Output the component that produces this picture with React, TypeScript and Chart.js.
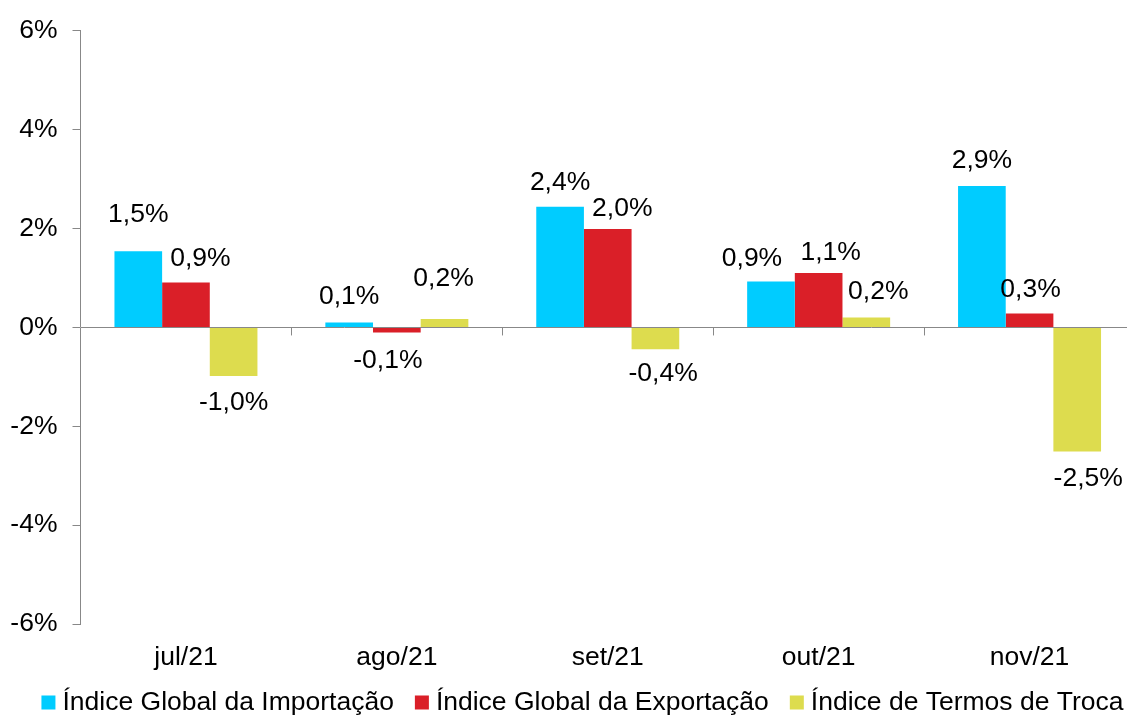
import React, { useEffect, useRef } from 'react';
import { Chart, registerables } from 'chart.js';

Chart.register(...registerables);

// ---- data ----
const categories = ['jul/21', 'ago/21', 'set/21', 'out/21', 'nov/21'];
const seriesNames = [
  'Índice Global da Importação',
  'Índice Global da Exportação',
  'Índice de Termos de Troca',
];
const importIndex = [1.54, 0.1, 2.44, 0.93, 2.86];
const exportIndex = [0.91, -0.1, 1.99, 1.1, 0.28];
const termsOfTrade = [-0.98, 0.17, -0.44, 0.2, -2.51];
const yTickValues = [-6, -4, -2, 0, 2, 4, 6];

// ---- style ----
const colors = ['#00CCFF', '#DA1F28', '#DDDC4E'];
const AXIS_GRAY = '#888888';
const FONT_FAMILY = '"Liberation Sans", Arial, Helvetica, sans-serif';
const FONT_SIZE = 26.5;
const W = 1135;
const H = 715;

// label nudges relative to the bar end (dx horizontal, dy vertical), per series
const labelNudges = [
  [{ dx: 0, dy: -37 }, { dx: 0, dy: -26 }, { dx: 0, dy: -24 }, { dx: -19, dy: -23 }, { dx: 0, dy: -25 }],
  [{ dx: 14.5, dy: -24 }, { dx: -9, dy: 28 }, { dx: 14.5, dy: -20 }, { dx: 12, dy: -20 }, { dx: 1, dy: -24 }],
  [{ dx: 0, dy: 27 }, { dx: -1, dy: -40 }, { dx: 7.7, dy: 24 }, { dx: 12, dy: -26 }, { dx: 11, dy: 27 }],
];

const fmt = (v: number) => v.toFixed(1).replace('.', ',') + '%';

const dataLabelPlugin = {
  id: 'dataLabels',
  afterDatasetsDraw(chart: any) {
    const ctx = chart.ctx;
    ctx.save();
    ctx.font = `${FONT_SIZE}px ${FONT_FAMILY}`;
    ctx.fillStyle = '#000';
    ctx.textAlign = 'center';
    ctx.textBaseline = 'middle';
    chart.data.datasets.forEach((ds: any, i: number) => {
      const meta = chart.getDatasetMeta(i);
      meta.data.forEach((bar: any, j: number) => {
        const v = ds.data[j] as number;
        const n = labelNudges[i][j];
        ctx.fillText(fmt(v), bar.x + n.dx, bar.y + n.dy);
      });
    });
    ctx.restore();
  },
};

const categoryTickPlugin = {
  id: 'categoryTicks',
  beforeDatasetsDraw(chart: any) {
    const xs = chart.scales.x;
    const ys = chart.scales.y;
    const y0 = ys.getPixelForValue(0);
    const ctx = chart.ctx;
    ctx.save();
    ctx.strokeStyle = AXIS_GRAY;
    ctx.lineWidth = 1;
    const n = categories.length;
    for (let i = 1; i <= n; i++) {
      const x = Math.round(xs.left + (i * xs.width) / n) + 0.5;
      ctx.beginPath();
      ctx.moveTo(x, y0);
      ctx.lineTo(x, y0 + 8);
      ctx.stroke();
    }
    ctx.restore();
  },
};

const legendPlugin = {
  id: 'customLegend',
  afterDraw(chart: any) {
    const ctx = chart.ctx;
    ctx.save();
    ctx.font = `${FONT_SIZE}px ${FONT_FAMILY}`;
    ctx.textBaseline = 'middle';
    ctx.textAlign = 'left';
    const boxW = 14;
    const boxH = 14;
    const textGap = 7;
    const itemGap = 21;
    const widths = seriesNames.map((s) => ctx.measureText(s).width);
    const total =
      widths.reduce((a, b) => a + b, 0) + seriesNames.length * (boxW + textGap) + (seriesNames.length - 1) * itemGap;
    let x = 582.5 - total / 2;
    const cy = 702.5;
    seriesNames.forEach((s, i) => {
      ctx.fillStyle = colors[i];
      ctx.fillRect(x, cy - boxH / 2, boxW, boxH);
      x += boxW + textGap;
      ctx.fillStyle = '#000';
      ctx.fillText(s, x, cy);
      x += widths[i] + itemGap;
    });
    ctx.restore();
  },
};

export default function App() {
  const canvasRef = useRef<HTMLCanvasElement | null>(null);

  useEffect(() => {
    if (!canvasRef.current) return;
    const font = { family: FONT_FAMILY, size: FONT_SIZE };
    const chart = new Chart(canvasRef.current, {
      type: 'bar',
      data: {
        labels: categories,
        datasets: [importIndex, exportIndex, termsOfTrade].map((d, i) => ({
          label: seriesNames[i],
          data: d,
          backgroundColor: colors[i],
          borderWidth: 0,
          categoryPercentage: 0.678,
          barPercentage: 1,
        })),
      },
      options: {
        responsive: false,
        animation: false,
        devicePixelRatio: 1,
        layout: { padding: { top: 30, bottom: 45, left: 0, right: 0 } },
        plugins: {
          legend: { display: false },
          tooltip: { enabled: false },
        },
        scales: {
          x: {
            grid: { display: false, drawTicks: false },
            border: { display: false },
            ticks: { font, color: '#000', padding: 18, maxRotation: 0 },
            afterFit: (s: any) => {
              s.height = 46;
            },
          },
          y: {
            min: -6,
            max: 6,
            afterBuildTicks: (s: any) => {
              s.ticks = yTickValues.map((v) => ({ value: v }));
            },
            ticks: {
              font,
              color: '#000',
              padding: 15,
              callback: (v: any) => `${v}%`,
            },
            grid: {
              color: (c: any) => (c.tick && c.tick.value === 0 ? AXIS_GRAY : 'rgba(0,0,0,0)'),
              tickColor: AXIS_GRAY,
              tickLength: 8,
              drawTicks: true,
              lineWidth: 1,
            },
            border: { display: true, color: AXIS_GRAY, width: 1 },
            afterFit: (s: any) => {
              s.width = 80.5;
            },
          },
        },
      } as any,
      plugins: [categoryTickPlugin, dataLabelPlugin, legendPlugin],
    });
    return () => chart.destroy();
  }, []);

  return (
    <div
      style={{
        position: 'fixed',
        left: 0,
        top: 0,
        width: 1127,
        height: 715,
        overflow: 'hidden',
        background: '#fff',
      }}
    >
      <canvas ref={canvasRef} width={W} height={H} />
    </div>
  );
}
